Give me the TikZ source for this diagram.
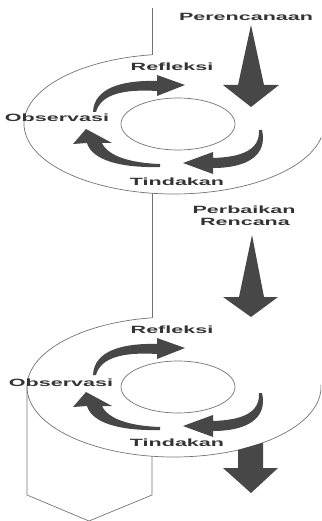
\documentclass[tikz,border=0pt]{standalone}
\usepackage{fontspec}
\setmainfont{Liberation Sans}
\usepackage{graphicx}
\begin{document}
\begin{tikzpicture}[x=1pt,y=-1pt,
  outline/.style={draw=black!55,line width=0.7pt},
  bigarrow/.style={fill=black!72,draw=none},
  cyclearrow/.style={fill=black!72,draw=none},
  lbl/.style={font=\fontsize{10.5}{12}\selectfont\bfseries,text=black!80,inner sep=0pt}]
\useasboundingbox (0,0) rectangle (321,521);
\clip (0,0) rectangle (321,521);
\newcommand{\wide}[1]{\scalebox{2.05}[1]{#1}}

% ---------- top cycle ----------
\coordinate (ctop) at (174,124);
\coordinate (topstart) at (152,8);
\draw[outline] (topstart) -- (152,54.76);
\draw[outline] (ctop) ++(98.43:150pt and 70pt)
  arc[start angle=98.43,end angle=362,x radius=150pt,y radius=70pt];
\draw[outline] (178,124) ellipse[x radius=57pt,y radius=26pt];
% link to bottom cycle
\draw[outline] (152,193.24) -- (152,317.79);

% ---------- bottom cycle ----------
\coordinate (cbot) at (174,387);
\draw[outline] (cbot) ++(98.61:147pt and 70pt)
  arc[start angle=98.61,end angle=362,x radius=147pt,y radius=70pt];
\draw[outline] (178,387) ellipse[x radius=57pt,y radius=26pt];
\coordinate (vl) at (27,495);
\coordinate (vr) at (152,495);
\coordinate (vt) at (89,521);
\draw[outline] (27,387) -- (vl) -- (vt) -- (vr) -- (152,456.21);

% ---------- big arrows ----------
\fill[bigarrow] (251,25) -- (264,85) -- (279,85) -- (251,107) -- (223,85) -- (238,85) -- cycle;
\fill[bigarrow] (252,235) -- (264,297) -- (278,297) -- (251,317) -- (223,297) -- (239,297) -- cycle;
\fill[bigarrow] (238,450) -- (263,442.7) -- (263,468) -- (278,468) -- (251,493) -- (223,468) -- (238,468) -- cycle;

% ---------- cycle arrows ----------
\foreach \dy in {0,263}{
\begin{scope}[shift={(0,\dy)}]
  % Refleksi arrow
  \fill[cyclearrow] (93,112) .. controls (94,88) and (122,80) .. (157,81)
    -- (157,75) -- (185,85) -- (157,96) -- (157,91)
    .. controls (124,89) and (101,94) .. (96,112) -- cycle;
  % Tindakan arrow
  \fill[cyclearrow] (262,130) .. controls (268,156) and (246,168) .. (213,168)
    -- (213,174) -- (183,163) -- (213,152) -- (213,158)
    .. controls (242,157) and (260,150) .. (259,130) -- cycle;
  % Observasi arrow
  \fill[cyclearrow] (160,167) .. controls (120,168) and (92,160) .. (87,143)
    -- (73,144) -- (86,129) -- (112,143) -- (102,143)
    .. controls (108,156) and (130,163) .. (160,164) -- cycle;
\end{scope}}

% ---------- labels ----------
\node[lbl] (perenc) at (246,17) {\wide{Perencanaan}};
\node[lbl] (refl1) at (172,67) {\wide{Refleksi}};
\node[lbl] (obs1) at (57,118) {\wide{Observasi}};
\node[lbl] (tind1) at (177,182) {\wide{Tindakan}};
\node[lbl] (perb) at (244,210) {\wide{Perbaikan}};
\node[lbl] (renc) at (245,222) {\wide{Rencana}};
\node[lbl] (refl2) at (172,330) {\wide{Refleksi}};
\node[lbl] (obs2) at (61,383) {\wide{Observasi}};
\node[lbl] (tind2) at (177,443) {\wide{Tindakan}};
\end{tikzpicture}
\end{document}
